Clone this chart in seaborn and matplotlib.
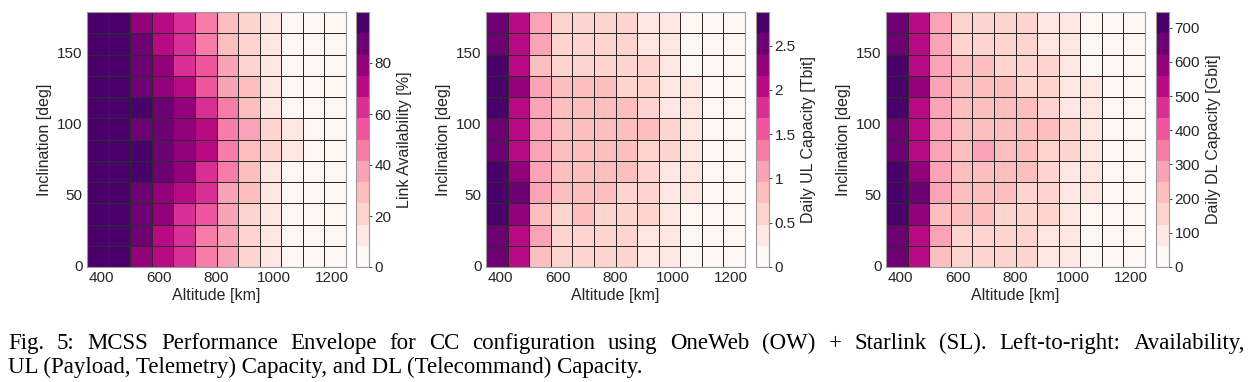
import numpy as np
import pandas as pd
import matplotlib
matplotlib.use("Agg")
import matplotlib.pyplot as plt
import seaborn as sns

# grid (cell centres)
altitude = [387.5, 462.5, 537.5, 612.5, 687.5, 762.5, 837.5, 912.5, 987.5, 1062.5, 1137.5, 1212.5]
inclination = [7.5, 22.5, 37.5, 52.5, 67.5, 82.5, 97.5, 112.5, 127.5, 142.5, 157.5, 172.5]

# rows = inclination (ascending), cols = altitude
availability = [
    [97, 96, 80, 72, 63, 47, 38, 21, 12, 5, 3, 2],
    [97, 96, 86, 72, 63, 48, 39, 22, 12, 5, 3, 2],
    [97, 96, 87, 79, 64, 55, 40, 23, 13, 6, 3, 2],
    [97, 96, 88, 80, 71, 62, 41, 27, 14, 6, 3, 2],
    [98, 97, 93, 88, 79, 63, 46, 29, 14, 7, 4, 2],
    [98, 97, 94, 88, 80, 70, 47, 30, 18, 9, 4, 2],
    [98, 97, 90, 87, 79, 70, 47, 36, 19, 10, 5, 2],
    [98, 97, 93, 87, 79, 63, 46, 30, 15, 7, 4, 2],
    [97, 96, 87, 80, 71, 55, 40, 28, 13, 6, 3, 2],
    [97, 96, 87, 79, 64, 55, 39, 22, 12, 5, 3, 2],
    [97, 96, 86, 72, 63, 47, 30, 21, 12, 5, 3, 2],
    [97, 96, 80, 71, 62, 46, 29, 21, 11, 5, 3, 2],
]

ul_capacity = [
    [2.55, 2.02, 0.82, 0.62, 0.60, 0.58, 0.55, 0.42, 0.30, 0.18, 0.10, 0.06],
    [2.52, 2.05, 1.02, 0.64, 0.62, 0.60, 0.56, 0.45, 0.33, 0.19, 0.11, 0.07],
    [2.78, 2.30, 0.90, 0.70, 0.82, 0.70, 0.66, 0.52, 0.38, 0.20, 0.12, 0.07],
    [2.86, 2.50, 1.08, 0.86, 0.88, 0.84, 0.70, 0.62, 0.40, 0.26, 0.14, 0.08],
    [2.82, 2.28, 1.06, 0.88, 0.88, 0.90, 0.92, 0.66, 0.44, 0.28, 0.15, 0.09],
    [2.58, 2.08, 1.04, 0.86, 0.88, 0.89, 0.90, 0.70, 0.52, 0.32, 0.16, 0.09],
    [2.60, 2.10, 1.02, 0.84, 0.86, 0.88, 0.90, 0.80, 0.54, 0.34, 0.17, 0.10],
    [2.84, 2.12, 1.04, 0.86, 0.87, 0.88, 0.92, 0.68, 0.44, 0.30, 0.15, 0.09],
    [2.80, 2.26, 1.00, 0.82, 0.84, 0.80, 0.68, 0.60, 0.38, 0.26, 0.13, 0.08],
    [2.76, 2.08, 0.86, 0.68, 0.66, 0.66, 0.64, 0.50, 0.34, 0.20, 0.11, 0.07],
    [2.54, 2.04, 1.00, 0.64, 0.62, 0.60, 0.56, 0.44, 0.32, 0.18, 0.10, 0.06],
    [2.56, 2.06, 1.04, 0.64, 0.62, 0.60, 0.58, 0.44, 0.30, 0.18, 0.10, 0.06],
]

dl_capacity = [
    [655, 525, 215, 160, 155, 152, 150, 110, 90, 45, 28, 18],
    [648, 530, 282, 165, 160, 156, 150, 118, 95, 48, 30, 20],
    [712, 590, 235, 225, 222, 180, 170, 150, 100, 52, 32, 20],
    [735, 665, 290, 230, 226, 220, 180, 160, 110, 75, 36, 22],
    [730, 585, 288, 235, 232, 236, 240, 170, 120, 80, 38, 23],
    [660, 535, 286, 230, 300, 234, 238, 180, 140, 85, 40, 24],
    [662, 540, 284, 228, 232, 236, 240, 230, 145, 88, 42, 25],
    [740, 545, 285, 230, 232, 234, 240, 175, 118, 80, 38, 23],
    [725, 580, 278, 225, 228, 222, 180, 165, 110, 72, 35, 21],
    [720, 545, 276, 220, 218, 180, 170, 160, 100, 55, 32, 20],
    [650, 530, 275, 165, 160, 158, 152, 115, 92, 48, 30, 19],
    [652, 528, 272, 162, 158, 155, 150, 112, 90, 46, 28, 18],
]

cbar_labels = ["Link Availability [%]", "Daily UL Capacity [Tbit]", "Daily DL Capacity [Gbit]"]
cbar_max = [100, 2.88, 746]
cbar_ticks = [[0, 20, 40, 60, 80],
              [0, 0.5, 1, 1.5, 2, 2.5],
              [0, 100, 200, 300, 400, 500, 600, 700]]
cbar_ticklabels = [["0", "20", "40", "60", "80"],
                   ["0", "0.5", "1", "1.5", "2", "2.5"],
                   ["0", "100", "200", "300", "400", "500", "600", "700"]]
alt_ticks = [400, 600, 800, 1000, 1200]
inc_ticks = [0, 50, 100, 150]

caption_1 = ("Fig. 5: MCSS Performance Envelope for CC configuration using OneWeb (OW) + Starlink (SL). "
             "Left-to-right: Availability,")
caption_2 = "UL (Payload, Telemetry) Capacity, and DL (Telecommand) Capacity."

sns.set_style("white")
plt.rcParams["font.family"] = ["Liberation Sans", "DejaVu Sans"]
txt = "#262626"

cmap = matplotlib.colormaps["RdPu"].resampled(12)

W, H = 1255, 382
fig = plt.figure(figsize=(W / 100, H / 100), dpi=100)

heat_left = [87, 486, 886]
heat_w = 259
cbar_left = [356, 756, 1156]
cbar_w = 13
top, bottom = 12, 267

alt_step = altitude[1] - altitude[0]
inc_step = inclination[1] - inclination[0]
n_inc = len(inclination)

for k, values in enumerate([availability, ul_capacity, dl_capacity]):
    ax = fig.add_axes([heat_left[k] / W, 1 - bottom / H, heat_w / W, (bottom - top) / H])
    cax = fig.add_axes([cbar_left[k] / W, 1 - bottom / H, cbar_w / W, (bottom - top) / H])
    df = pd.DataFrame(values, index=inclination, columns=altitude).iloc[::-1]
    sns.heatmap(df, ax=ax, cbar_ax=cax, cmap=cmap, vmin=0, vmax=cbar_max[k],
                linewidths=0.5, linecolor="#2a2a2a")

    xpos = [(a - altitude[0]) / alt_step + 0.5 for a in alt_ticks]
    ypos = [n_inc - ((v - inclination[0]) / inc_step + 0.5) for v in inc_ticks]
    ax.set_xticks(xpos)
    ax.set_xticklabels([str(a) for a in alt_ticks], rotation=0)
    ax.set_yticks(ypos)
    ax.set_yticklabels([str(v) for v in inc_ticks], rotation=0)
    ax.tick_params(length=0, labelsize=11, colors=txt, pad=3)
    ax.set_xlabel("Altitude [km]", fontsize=11.5, color=txt, labelpad=2)
    ax.set_ylabel("Inclination [deg]", fontsize=11.5, color=txt, labelpad=4)
    for s in ax.spines.values():
        s.set_visible(True)
        s.set_color("#999999")
        s.set_linewidth(0.8)

    cbar = ax.collections[0].colorbar
    cbar.set_ticks(cbar_ticks[k])
    cbar.set_ticklabels(cbar_ticklabels[k])
    cbar.outline.set_visible(True)
    cbar.outline.set_edgecolor("#999999")
    cbar.outline.set_linewidth(0.8)
    cax.tick_params(length=2, width=0.6, labelsize=11, colors=txt, pad=2)
    cbar.set_label(cbar_labels[k], fontsize=11.5, color=txt, labelpad=4)

# caption, first line justified across the page width like the paper
renderer = fig.canvas.get_renderer()
x0, x1 = 8 / W, 1245 / W
cap_font = dict(family="Liberation Serif", fontsize=16.5, color="black", va="baseline")

def justified(line, y):
    words = line.split(" ")
    widths = []
    for w in words:
        t = fig.text(0, 0, w, **cap_font)
        widths.append(t.get_window_extent(renderer).width / W)
        t.remove()
    gap = (x1 - x0 - sum(widths)) / (len(words) - 1)
    x = x0
    for w, wd in zip(words, widths):
        fig.text(x, y, w, **cap_font)
        x += wd + gap

justified(caption_1, 1 - 349 / H)
fig.text(x0, 1 - 373 / H, caption_2, **cap_font)

fig.savefig("out.png", dpi=100)
